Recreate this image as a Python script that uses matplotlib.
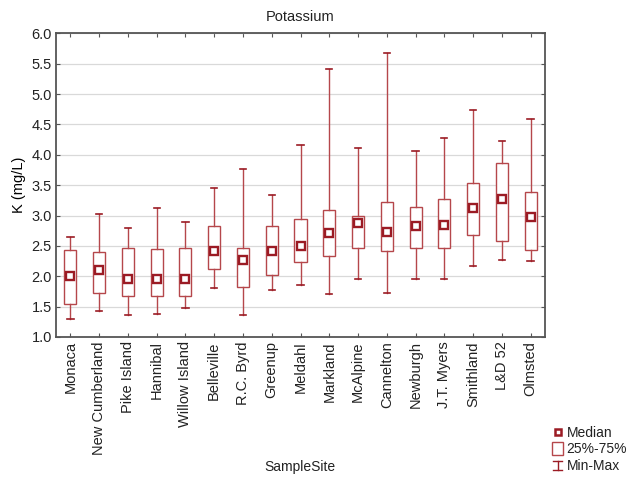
import matplotlib
matplotlib.use("Agg")
import matplotlib.pyplot as plt
from matplotlib.lines import Line2D
from matplotlib.patches import Rectangle
from matplotlib.legend_handler import HandlerBase

plt.rcParams['font.family'] = ['Liberation Sans', 'DejaVu Sans']
plt.rcParams['text.color'] = '#222222'

sites = ["Monaca", "New Cumberland", "Pike Island", "Hannibal", "Willow Island",
         "Belleville", "R.C. Byrd", "Greenup", "Meldahl", "Markland", "McAlpine",
         "Cannelton", "Newburgh", "J.T. Myers", "Smithland", "L&D 52", "Olmsted"]
k_min = [1.30, 1.43, 1.37, 1.38, 1.47, 1.80, 1.37, 1.77, 1.85, 1.71, 1.96, 1.72, 1.96, 1.96, 2.17, 2.27, 2.25]
k_q1 = [1.55, 1.73, 1.67, 1.68, 1.67, 2.12, 1.82, 2.02, 2.23, 2.33, 2.46, 2.42, 2.47, 2.46, 2.68, 2.58, 2.43]
k_median = [2.00, 2.10, 1.95, 1.96, 1.96, 2.42, 2.26, 2.42, 2.49, 2.72, 2.87, 2.73, 2.82, 2.85, 3.13, 3.28, 2.97]
k_q3 = [2.43, 2.40, 2.47, 2.45, 2.47, 2.83, 2.46, 2.83, 2.94, 3.09, 3.00, 3.23, 3.14, 3.27, 3.54, 3.87, 3.38]
k_max = [2.65, 3.03, 2.80, 3.12, 2.90, 3.45, 3.77, 3.33, 4.16, 5.42, 4.11, 5.67, 4.06, 4.27, 4.74, 4.22, 4.59]
yticks = [1.0, 1.5, 2.0, 2.5, 3.0, 3.5, 4.0, 4.5, 5.0, 5.5, 6.0]

box_col = "#b5474b"
med_col = "#9b1b24"
spine_col = "#555555"
txt_col = "#222222"

fig = plt.figure(figsize=(6.32, 4.8), dpi=100)
ax = fig.add_axes([56/632, 1-337/480, (545-56)/632, (337-33.3)/480])

stats = []
for i, s in enumerate(sites):
    stats.append(dict(label=s, whislo=k_min[i], q1=k_q1[i], med=k_median[i],
                      q3=k_q3[i], whishi=k_max[i], fliers=[]))
pos = list(range(len(sites)))
ax.bxp(stats, positions=pos, widths=0.42, showfliers=False, patch_artist=True,
       boxprops=dict(facecolor="white", edgecolor=box_col, linewidth=1.0),
       whiskerprops=dict(color=box_col, linewidth=1.0),
       capprops=dict(color=med_col, linewidth=1.2),
       medianprops=dict(linewidth=0), capwidths=0.22, zorder=3)
ax.plot(pos, k_median, linestyle="none", marker="s", markersize=5.5,
        markerfacecolor="white", markeredgecolor=med_col, markeredgewidth=1.7, zorder=4)

ax.set_xlim(-0.5, len(sites) - 0.5)
ax.set_ylim(1.0, 6.0)
ax.set_yticks(yticks)
ax.set_yticklabels([f"{v:.1f}" for v in yticks], fontsize=10.5)
ax.set_xticks(pos)
ax.set_xticklabels(sites, rotation=90, fontsize=10.5)
ax.yaxis.grid(True, color="#d9d9d9", linewidth=0.9)
ax.set_axisbelow(True)
ax.tick_params(axis="both", direction="in", length=3, color=spine_col,
               labelcolor=txt_col, top=True, right=True, pad=3)
for sp in ax.spines.values():
    sp.set_color(spine_col)
    sp.set_linewidth(1.3)

ax.set_title("Potassium", fontsize=10.5, pad=9)
ax.set_ylabel("K (mg/L)", fontsize=10.5, labelpad=4)
fig.text(300/632, 1-467/480, "SampleSite", fontsize=10, ha="center", va="center")


class MinMaxHandler(HandlerBase):
    def create_artists(self, legend, orig_handle, xdescent, ydescent, width, height, fontsize, trans):
        cx = width / 2 - xdescent
        y0 = -ydescent
        y1 = height - ydescent
        lines = [Line2D([cx, cx], [y0, y1], color=med_col, lw=1, transform=trans),
                 Line2D([cx - 3, cx + 3], [y0, y0], color=med_col, lw=1, transform=trans),
                 Line2D([cx - 3, cx + 3], [y1, y1], color=med_col, lw=1, transform=trans)]
        return lines


class BoxHandler(HandlerBase):
    def create_artists(self, legend, orig_handle, xdescent, ydescent, width, height, fontsize, trans):
        cx = width / 2 - xdescent
        r = Rectangle((cx - 4, -ydescent - 1), 8, height + 2, facecolor="white",
                      edgecolor=box_col, lw=1, transform=trans)
        return [r]


h_med = Line2D([], [], linestyle="none", marker="s", markersize=5,
               markerfacecolor="white", markeredgecolor=med_col, markeredgewidth=1.8)
h_box = Rectangle((0, 0), 1, 1)
h_mm = Line2D([], [])
fig.legend([h_med, h_box, h_mm], ["Median", "25%-75%", "Min-Max"],
           handler_map={Rectangle: BoxHandler(), h_mm: MinMaxHandler()},
           loc="lower left", bbox_to_anchor=(550/632, 4/480), frameon=False,
           fontsize=10, handlelength=0.7, handletextpad=0.3, labelspacing=0.2,
           borderpad=0.2, borderaxespad=0)

fig.savefig("out.png", dpi=100)
